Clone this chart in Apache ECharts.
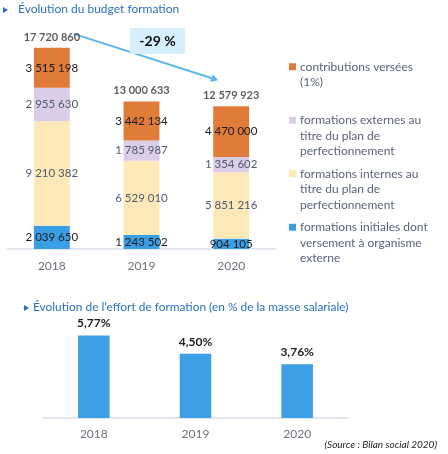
<!DOCTYPE html>
<html><head><meta charset="utf-8">
<script src="https://cdn.jsdelivr.net/npm/echarts@6/dist/echarts.min.js"></script>
<style>html,body{margin:0;padding:0;background:#fff}#c{width:448px;height:454px}</style>
</head><body><div id="c"></div>
<script>
const years = ['2018', '2019', '2020'];
const initiales = [2039650, 1243502, 904105];
const internes = [9210382, 6529010, 5851216];
const externes = [2955630, 1785987, 1354602];
const contributions = [3515198, 3442134, 4470000];
const totals = [17720860, 13000633, 12579923];
const effort = [5.77, 4.50, 3.76];
const evolutionLabel = '-29 %';

const F = 'Lato, "Noto Sans", sans-serif';
const fmtNum = v => String(v).replace(/\B(?=(\d{3})+(?!\d))/g, ' ');
const fmtPct = v => v.toFixed(2).replace('.', ',') + '%';

const names = [
  'contributions versées (1%)',
  'formations externes au titre du plan de perfectionnement',
  'formations internes au titre du plan de perfectionnement',
  'formations initiales dont versement à organisme externe'
];
const legendLines = {
  [names[0]]: ['contributions versées', '(1%)', ' '],
  [names[1]]: ['formations externes au', 'titre du plan de', 'perfectionnement'],
  [names[2]]: ['formations internes au', 'titre du plan de', 'perfectionnement'],
  [names[3]]: ['formations initiales dont', 'versement à organisme', 'externe']
};
const colors = ['#e07b39', '#dccde6', '#fde9b8', '#3a9ee4'];

const chart = echarts.init(document.getElementById('c'), null, {renderer: 'canvas'});

function stackSeries(name, data, color, labelColor) {
  return {
    name, type: 'bar', stack: 'b', data, xAxisIndex: 0, yAxisIndex: 0,
    barWidth: '40%', itemStyle: {color},
    label: {show: true, position: 'inside', color: labelColor, fontFamily: F, fontSize: 11.5,
      formatter: p => fmtNum(p.value)},
    emphasis: {disabled: true}
  };
}

const rich = {};
colors.forEach((c, i) => { rich['sq' + i] = {width: 7, height: 7, backgroundColor: c}; });
rich.bl = {width: 7, height: 7};
rich.t = {padding: [0, 0, 0, 4], color: '#5a6378', fontFamily: F, fontSize: 12, lineHeight: 15.5};

chart.setOption({
  animation: false,
  textStyle: {fontFamily: F},
  grid: [
    {left: 7, width: 269, top: 22, height: 227},
    {left: 43, width: 305, top: 318, height: 100}
  ],
  xAxis: [
    {type: 'category', gridIndex: 0, data: years,
      axisLine: {lineStyle: {color: '#d9deea', width: 1.5}}, axisTick: {show: false},
      axisLabel: {color: '#6b7080', fontSize: 12, margin: 11, fontFamily: F}},
    {type: 'category', gridIndex: 1, data: years,
      axisLine: {lineStyle: {color: '#d9deea', width: 1.5}}, axisTick: {show: false},
      axisLabel: {color: '#6b7080', fontSize: 12, margin: 10, fontFamily: F}}
  ],
  yAxis: [
    {type: 'value', gridIndex: 0, min: 0, max: 20000000, show: false},
    {type: 'value', gridIndex: 1, min: 0, max: 7, show: false}
  ],
  legend: {
    orient: 'vertical', left: 284, top: 59, padding: 0, itemGap: 7,
    itemWidth: 0, itemHeight: 0, selectedMode: false,
    data: names.map(n => ({name: n, icon: 'rect'})),
    formatter: name => {
      const i = names.indexOf(name);
      const l = legendLines[name];
      return `{sq${i}|}{t|${l[0]}}\n{bl|}{t|${l[1]}}\n{bl|}{t|${l[2]}}`;
    },
    textStyle: {rich, lineHeight: 15.5}
  },
  series: [
    stackSeries(names[3], initiales, colors[3], '#1a1a1a'),
    stackSeries(names[2], internes, colors[2], '#505a70'),
    stackSeries(names[1], externes, colors[1], '#505a70'),
    stackSeries(names[0], contributions, colors[0], '#1a1a1a'),
    {type: 'scatter', xAxisIndex: 0, yAxisIndex: 0, data: totals, symbolSize: 0, z: 10,
      label: {show: true, position: 'top', distance: 5, color: '#333', fontWeight: 'bold',
        fontSize: 11, fontFamily: F, formatter: p => fmtNum(p.value)}, emphasis: {disabled: true}},
    {type: 'bar', xAxisIndex: 1, yAxisIndex: 1, data: effort, barWidth: '31%',
      itemStyle: {color: '#3d9fe6'},
      label: {show: true, position: 'top', distance: 6, color: '#222', fontWeight: 'bold',
        fontSize: 12, fontFamily: F, formatter: p => fmtPct(p.value)}, emphasis: {disabled: true}}
  ]
});

const p0 = chart.convertToPixel({xAxisIndex: 0, yAxisIndex: 0}, [0, totals[0]]);
const p2 = chart.convertToPixel({xAxisIndex: 0, yAxisIndex: 0}, [2, totals[2]]);
const sx = p0[0] + 22, sy = p0[1] - 14, ex = p2[0] - 13, ey = p2[1] - 26;
const ang = Math.atan2(ey - sy, ex - sx);
const ah = 7;
chart.setOption({
  graphic: [
    {type: 'polygon', shape: {points: [[3, 7], [8, 10], [3, 13]]}, style: {fill: '#2b70c0'}},
    {type: 'text', left: 18, top: 3, style: {text: 'Évolution du budget formation', fill: '#2b70c0', font: '12px ' + F}},
    {type: 'polygon', shape: {points: [[24, 305], [29, 308], [24, 311]]}, style: {fill: '#2b70c0'}},
    {type: 'text', left: 33, top: 301, style: {text: 'Évolution de l’effort de formation (en % de la masse salariale)', fill: '#2b70c0', font: '11.9px ' + F}},
    {type: 'line', shape: {x1: sx, y1: sy, x2: ex - 4 * Math.cos(ang), y2: ey - 4 * Math.sin(ang)}, style: {stroke: '#5bb8ea', lineWidth: 2}, z: 1},
    {type: 'polygon', shape: {points: [[ex, ey],
      [ex - ah * Math.cos(ang) + 4 * Math.sin(ang), ey - ah * Math.sin(ang) - 4 * Math.cos(ang)],
      [ex - ah * Math.cos(ang) - 4 * Math.sin(ang), ey - ah * Math.sin(ang) + 4 * Math.cos(ang)]]},
      style: {fill: '#5bb8ea'}, z: 1},
    {type: 'rect', shape: {x: 130, y: 28, width: 55, height: 26}, style: {fill: '#d4eefb'}, z: 2},
    {type: 'text', x: 157.5, y: 41, style: {text: evolutionLabel, fill: '#111', font: 'bold 14px ' + F, align: 'center', verticalAlign: 'middle'}, z: 3},
    {type: 'text', right: 11, top: 440, style: {text: '(Source : Bilan social 2020)', fill: '#222', font: 'italic 10px ' + F}}
  ]
});
</script></body></html>
